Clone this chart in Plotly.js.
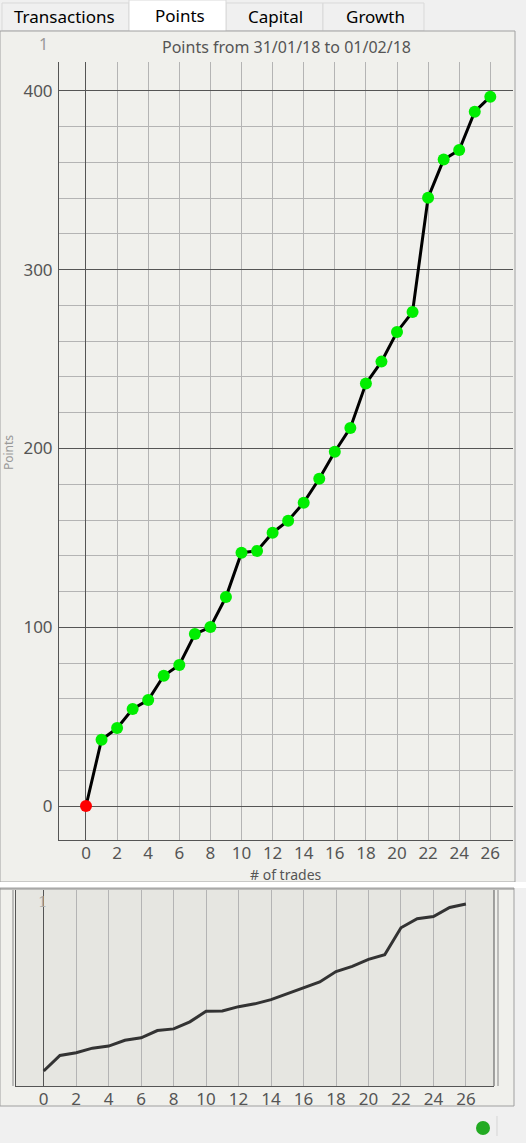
<!DOCTYPE html>
<html>
<head>
<meta charset="utf-8">
<script src="https://cdn.plot.ly/plotly-3.0.1.min.js"></script>
<style>
html,body{margin:0;padding:0;background:#f0f0f0;}
#chart{width:526px;height:1143px;}
</style>
</head>
<body>
<div id="chart"></div>
<script>
// ---- data ----
var trades = [0,1,2,3,4,5,6,7,8,9,10,11,12,13,14,15,16,17,18,19,20,21,22,23,24,25,26];
var points = [0,37.1,43.6,54.3,59.3,72.9,78.9,96.2,100.1,116.9,141.7,142.7,152.9,159.6,169.7,183.1,198.2,211.5,236.3,248.6,265.2,276.4,340.3,361.6,367,388.4,396.8];
var tabLabels = ["Transactions","Points","Capital","Growth"];
var chartTitle = "Points from 31/01/18 to 01/02/18";
var xTitle = "# of trades";
var yTitle = "Points";

// ---- helpers: pixel -> paper ----
var W = 526, H = 1143;
function px(x){return x/W;}
function py(y){return 1 - y/H;}
function rect(x0,y0,x1,y1,fill,line,lw){
  return {type:'rect',xref:'paper',yref:'paper',x0:px(x0),x1:px(x1),y0:py(y1),y1:py(y0),
    fillcolor:fill,line:{color:line||'rgba(0,0,0,0)',width:lw||0},layer:'below'};
}
function lineShape(x0,y0,x1,y1,color,w){
  return {type:'line',xref:'paper',yref:'paper',x0:px(x0),x1:px(x1),y0:py(y0),y1:py(y1),
    line:{color:color,width:w||1},layer:'below'};
}
function label(text,x,y,size,color,extra){
  var a = {text:text, x:px(x), y:py(y), xref:'paper', yref:'paper', showarrow:false,
    xanchor:'center', yanchor:'middle', font:{family:FONT,size:size,color:color}};
  if(extra){for(var k in extra){a[k]=extra[k];}}
  return a;
}

var FONT = "Noto Sans, DejaVu Sans, sans-serif";
var markerColors = points.map(function(v,i){return i===0 ? '#ff0000' : '#00ee00';});

var traces = [
  {x:trades, y:points, xaxis:'x', yaxis:'y', type:'scatter', mode:'lines+markers',
   line:{color:'#000000', width:3}, marker:{color:markerColors, size:12},
   hoverinfo:'skip', showlegend:false},
  {x:trades, y:points, xaxis:'x2', yaxis:'y2', type:'scatter', mode:'lines',
   line:{color:'#333333', width:3}, hoverinfo:'skip', showlegend:false}
];

var shapes = [
  // tab bar
  rect(0,0,526,31,'#f0f0f0'),
  rect(2,3,129,31,'#f0f0f0','#d9d9d9',1),
  rect(226,3,323,31,'#f0f0f0','#d9d9d9',1),
  rect(323,3,424,31,'#f0f0f0','#d9d9d9',1),
  rect(129,0,226,32,'#ffffff','#d9d9d9',1),
  // main panel
  rect(0,31,515,882,'#f0f0ec','#a0a0a0',1),
  rect(0,882,526,888,'#ffffff'),
  // bottom panel
  rect(0,888,514,1106,'#f0f0ec','#a0a0a0',1),
  rect(16,890,494,1086,'#e6e6e1'),
  lineShape(13,890,13,1086,'#888888',1),
  lineShape(498,890,498,1086,'#888888',1),
  lineShape(494,890,494,1086,'#555555',1),
  lineShape(0,889,514,889,'#888888',1),
  // status bar
  lineShape(497,1116,497,1136,'#d5d5d5',1),
  {type:'circle',xref:'paper',yref:'paper',x0:px(476),x1:px(490),y0:py(1135),y1:py(1121),
   fillcolor:'#22aa22',line:{width:0},layer:'above'}
];

var annotations = [
  label(tabLabels[0], 64, 16, 17, '#000'),
  label(tabLabels[1], 180, 15, 17, '#000'),
  label(tabLabels[2], 275, 16, 17, '#000'),
  label(tabLabels[3], 375, 16, 17, '#000'),
  label(chartTitle, 286, 47, 16, '#555'),
  label('1', 43, 44, 16, '#999'),
  label(yTitle, 8, 453, 12, '#999', {textangle:-90}),
  label(xTitle, 286, 874, 14, '#555'),
  label('1', 43, 902, 15, '#aaa', {font:{family:'DejaVu Serif, serif',size:15,color:'#aaa'}})
];

var mainXDomain = [px(59), px(513)];
var mainYDomain = [py(840), py(62)];
var miniXDomain = [px(16), px(494)];
var miniYDomain = [py(1086), py(890)];
var mainXRange = [-1.736, 27.46];
var miniXRange = [-1.706, 27.73];
var TICKFONT = {family:FONT,size:17,color:'#555'};

var layout = {
  width:W, height:H,
  margin:{l:0,r:0,t:0,b:0},
  paper_bgcolor:'#f0f0f0',
  plot_bgcolor:'rgba(0,0,0,0)',
  showlegend:false,
  hovermode:false,
  font:{family:FONT, color:'#555'},
  xaxis:{domain:mainXDomain, anchor:'y', range:mainXRange, tick0:0, dtick:2,
    showgrid:true, gridcolor:'#b4b4b4', gridwidth:1,
    zeroline:true, zerolinecolor:'#555', zerolinewidth:1,
    showline:true, linecolor:'#555', linewidth:1, ticks:'', ticklabelstandoff:-2,
    tickfont:TICKFONT, fixedrange:true},
  xaxis3:{domain:mainXDomain, anchor:'y', overlaying:'x', range:mainXRange, tick0:0, dtick:20,
    showgrid:true, gridcolor:'#555', gridwidth:1, zeroline:false, showline:false,
    showticklabels:false, ticks:'', fixedrange:true},
  yaxis:{domain:mainYDomain, anchor:'x', range:[-19,416.2], tick0:0, dtick:100,
    showgrid:true, gridcolor:'#555', gridwidth:1,
    minor:{dtick:20, tick0:0, showgrid:true, gridcolor:'#b4b4b4', gridwidth:1, ticks:''},
    zeroline:true, zerolinecolor:'#555', zerolinewidth:1,
    showline:true, linecolor:'#555', linewidth:1, ticks:'', ticklabelstandoff:2,
    tickfont:TICKFONT, fixedrange:true},
  xaxis2:{domain:miniXDomain, anchor:'y2', range:miniXRange, tick0:0, dtick:2,
    showgrid:true, gridcolor:'#b4b4b4', gridwidth:1,
    zeroline:true, zerolinecolor:'#555', zerolinewidth:1,
    showline:true, linecolor:'#555', linewidth:1, ticks:'', ticklabelstandoff:-2,
    tickfont:TICKFONT, fixedrange:true},
  xaxis4:{domain:miniXDomain, anchor:'y2', overlaying:'x2', range:miniXRange, tick0:0, dtick:20,
    showgrid:true, gridcolor:'#555', gridwidth:1, zeroline:false, showline:false,
    showticklabels:false, ticks:'', fixedrange:true},
  yaxis2:{domain:miniYDomain, anchor:'x2', range:[-35.6,430],
    showgrid:false, zeroline:false, showticklabels:false, ticks:'',
    showline:true, linecolor:'#555', linewidth:1, fixedrange:true},
  shapes:shapes,
  annotations:annotations
};

Plotly.newPlot('chart', traces, layout, {staticPlot:true, displayModeBar:false});
</script>
</body>
</html>
